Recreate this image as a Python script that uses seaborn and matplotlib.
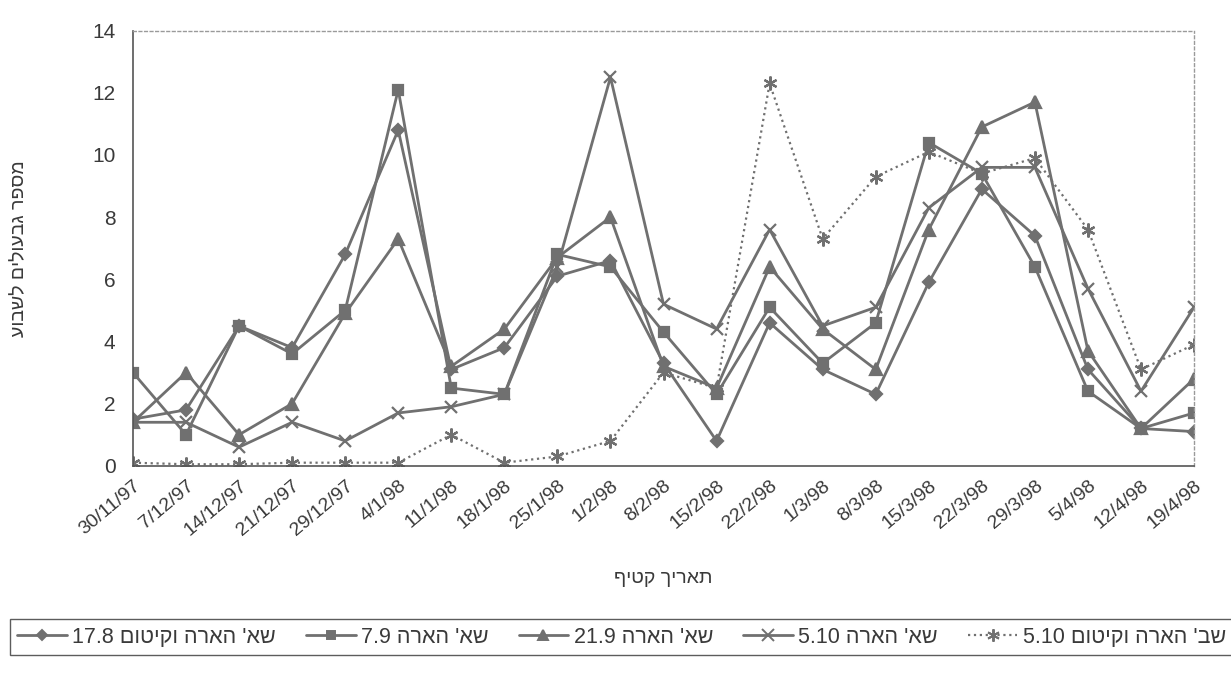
import matplotlib
matplotlib.use("Agg")
import matplotlib.pyplot as plt
from matplotlib.lines import Line2D
import seaborn as sns
import pandas as pd

# ---------------- data ----------------
dates = ["30/11/97", "7/12/97", "14/12/97", "21/12/97", "29/12/97", "4/1/98",
         "11/1/98", "18/1/98", "25/1/98", "1/2/98", "8/2/98", "15/2/98",
         "22/2/98", "1/3/98", "8/3/98", "15/3/98", "22/3/98", "29/3/98",
         "5/4/98", "12/4/98", "19/4/98"]

s_diamond = [1.5, 1.8, 4.5, 3.8, 6.8, 10.8, 3.1, 3.8, 6.1, 6.6, 3.3, 0.8,
             4.6, 3.1, 2.3, 5.9, 8.9, 7.4, 3.1, 1.2, 1.1]
s_square = [3.0, 1.0, 4.5, 3.6, 5.0, 12.1, 2.5, 2.3, 6.8, 6.4, 4.3, 2.3,
            5.1, 3.3, 4.6, 10.4, 9.4, 6.4, 2.4, 1.2, 1.7]
s_triangle = [1.4, 3.0, 1.0, 2.0, 4.9, 7.3, 3.2, 4.4, 6.7, 8.0, 3.2, 2.5,
              6.4, 4.4, 3.1, 7.6, 10.9, 11.7, 3.7, 1.2, 2.8]
s_cross = [1.4, 1.4, 0.6, 1.4, 0.8, 1.7, 1.9, 2.3, 6.4, 12.5, 5.2, 4.4,
           7.6, 4.5, 5.1, 8.3, 9.6, 9.6, 5.7, 2.4, 5.1]
s_star = [0.1, 0.05, 0.05, 0.1, 0.1, 0.1, 1.0, 0.1, 0.3, 0.8, 3.0, 2.5,
          12.3, 7.3, 9.3, 10.1, 9.4, 9.9, 7.6, 3.1, 3.9]

series_names = ["שא' הארה וקיטום", "שא' הארה", "שא' הארה", "שא' הארה", "שב' הארה וקיטום"]
series_nums = ["17.8", "7.9", "21.9", "5.10", "5.10"]
x_title = "תאריך קטיף"
y_title = "מספר גבעולים לשבוע"
y_ticks = [0, 2, 4, 6, 8, 10, 12, 14]


def visual(s):
    """Hebrew logical order -> visual order (matplotlib has no bidi)."""
    return s[::-1]


# ---------------- style ----------------
sns.set_theme(style="white")
plt.rcParams["font.family"] = ["Liberation Sans", "DejaVu Sans"]

line_col = "#707070"
text_col = "#3a3a3a"

fig = plt.figure(figsize=(12.31, 6.8), dpi=100)
ax = fig.add_axes([0.108, 0.315, 0.862, 0.64])

idx = list(range(len(dates)))
all_series = [s_diamond, s_square, s_triangle, s_cross, s_star]
markers = ["D", "s", "^", "x", (6, 2, 0)]
msizes = [6, 7, 8, 9, 10]
styles = ["-", "-", "-", "-", ":"]
widths = [2.0, 2.0, 2.0, 2.0, 1.6]

handles = []
for vals, mk, ms, ls, lw, nm, num in zip(all_series, markers, msizes, styles,
                                          widths, series_names, series_nums):
    df = pd.DataFrame({"x": idx, "y": vals})
    sns.lineplot(data=df, x="x", y="y", ax=ax, color=line_col, linewidth=lw,
                 linestyle=ls, marker=mk, markersize=ms,
                 markerfacecolor=line_col, markeredgecolor=line_col,
                 markeredgewidth=1.6, sort=False, legend=False)
    handles.append(Line2D([], [], color=line_col, linewidth=lw, linestyle=ls,
                          marker=mk, markersize=ms - 1,
                          markerfacecolor=line_col, markeredgecolor=line_col,
                          markeredgewidth=1.4,
                          label=f"{num} {visual(nm)}"))

ax.set_xlim(0, len(dates) - 1)
ax.set_ylim(0, 14)
ax.set_yticks(y_ticks)
ax.set_yticklabels([str(t) for t in y_ticks], fontsize=15, color=text_col)
ax.set_xticks(idx)
ax.set_xticklabels(dates, rotation=40, ha="right", rotation_mode="anchor",
                   fontsize=14, color=text_col)
ax.tick_params(axis="both", direction="inout", length=9, width=1.0,
               colors="#555555", labelcolor=text_col)
ax.tick_params(axis="x", pad=4)
ax.tick_params(axis="y", pad=8)

for side in ["left", "bottom"]:
    ax.spines[side].set_color("#555555")
    ax.spines[side].set_linewidth(1.2)
for side in ["top", "right"]:
    ax.spines[side].set_color("#9a9a9a")
    ax.spines[side].set_linewidth(1.0)
    ax.spines[side].set_linestyle((0, (2, 2)))

ax.set_xlabel(visual(x_title), fontsize=14, color=text_col, labelpad=22)
ax.set_ylabel(visual(y_title), fontsize=14, color=text_col, labelpad=46)

leg = fig.legend(handles=handles, loc="center", ncol=5,
                 bbox_to_anchor=(0.505, 0.063), frameon=True, fancybox=False,
                 fontsize=15.5, handlelength=2.3, columnspacing=1.4,
                 handletextpad=0.25, borderpad=0.35, borderaxespad=0.2)
leg.get_frame().set_edgecolor("#333333")
leg.get_frame().set_linewidth(1.0)
for t in leg.get_texts():
    t.set_color(text_col)

fig.savefig("out.png", dpi=100, facecolor="white")
